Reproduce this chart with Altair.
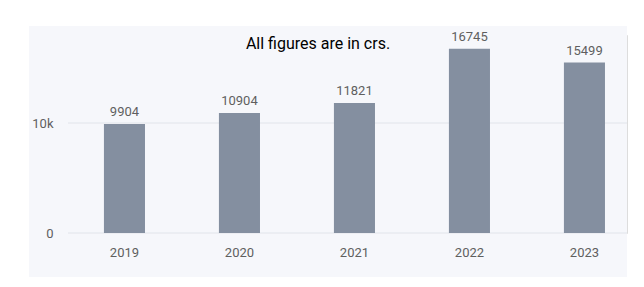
import altair as alt
import pandas as pd

years = ["2019", "2020", "2021", "2022", "2023"]
values = [9904, 10904, 11821, 16745, 15499]
y_ticks = [0, 10000]
note = ["All figures are in crs."]

df = pd.DataFrame({"year": years, "value": values})
grid_df = pd.DataFrame({"tick": y_ticks})

W, H = 559, 198
FONT = "Roboto, sans-serif"
LABEL = "#5f5f5f"

x_enc = alt.X("year:N", sort=years, title=None,
              scale=alt.Scale(paddingInner=0.643, paddingOuter=0.252, align=0.62),
              axis=alt.Axis(labelAngle=0, domain=False, ticks=False, grid=False,
                            labelPadding=13, labelFontSize=13, labelColor=LABEL,
                            labelFont=FONT, zindex=1))
y_scale = alt.Scale(domain=[0, 18000], nice=False)
y_enc = alt.Y("value:Q", title=None, scale=y_scale,
              axis=alt.Axis(values=y_ticks,
                            labelExpr="datum.value === 0 ? '0' : (datum.value / 1000) + 'k'",
                            domain=False, ticks=False,
                            grid=False, labelPadding=15, labelFontSize=13,
                            labelColor=LABEL, labelFont=FONT, zindex=1))

panel = alt.Chart(pd.DataFrame({"p": [1]})).mark_rect(color="#f6f7fb").encode(
    x=alt.value(-39), x2=alt.value(W), y=alt.value(-9), y2=alt.value(H + 44)
)

grid = alt.Chart(grid_df).mark_rule(color="#e1e4ea", strokeWidth=1).encode(
    y=alt.Y("tick:Q", scale=y_scale), x=alt.value(0), x2=alt.value(W)
)

bars = alt.Chart(df).mark_bar(color="#848fa0").encode(x=x_enc, y=y_enc)

labels = alt.Chart(df).mark_text(dy=-5, baseline="bottom", fontSize=13, color=LABEL,
                                  font=FONT).encode(
    x=alt.X("year:N", sort=years), y="value:Q", text="value:Q"
)

title = alt.Chart(pd.DataFrame({"t": note})).mark_text(
    fontSize=16, color="#000000", font=FONT, baseline="middle", align="center"
).encode(text="t:N", x=alt.value(250), y=alt.value(9))

chart = alt.layer(panel, grid, bars, labels, title).properties(
    width=W, height=H,
    autosize=alt.AutoSizeParams(type="none"),
    padding={"left": 68, "top": 35, "right": 17, "bottom": 54},
).configure_view(stroke=None).configure(background="white")

chart.save("out.html", embed_options={"renderer": "svg", "actions": False})
